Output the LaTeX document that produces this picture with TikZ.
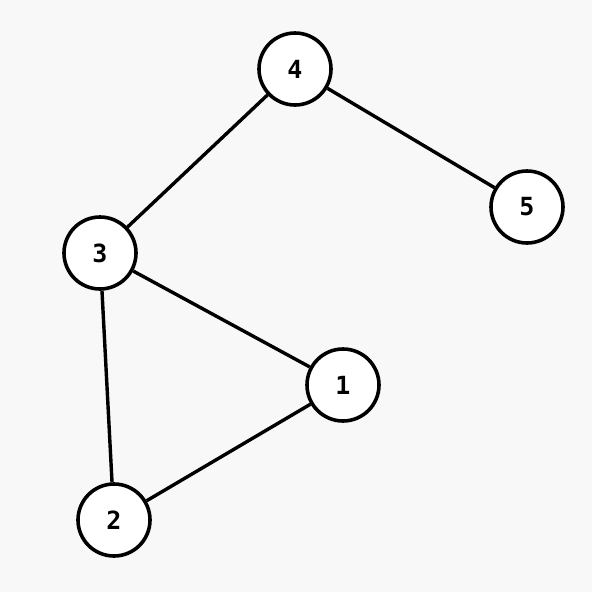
\documentclass[tikz,border=0pt]{standalone}
\usepackage{fontspec}
\newfontfamily\labelfont{DejaVu Sans Mono Bold}
\definecolor{bgcol}{HTML}{F8F8F8}
\tikzset{
  vertex/.style={circle, draw=black, fill=white, line width=3.6pt,
    minimum size=72pt, inner sep=0pt, font=\fontsize{25}{30}\labelfont},
  edge/.style={line width=3.4pt}
}
\begin{document}
\begin{tikzpicture}[x=1pt,y=-1pt]
% Background and bounding box
\fill[bgcol] (0,0) rectangle (592,592);
\useasboundingbox (0,0) rectangle (592,592);
% Draw the vertices
\node[vertex] (v4) at (295,69) {4};
\node[vertex] (v5) at (527,207) {5};
\node[vertex] (v3) at (100,253) {3};
\node[vertex] (v1) at (343,385) {1};
\node[vertex] (v2) at (114,520) {2};
% Draw the edges
\foreach \a/\b in {v4/v3,v4/v5,v3/v1,v3/v2,v2/v1}
  \draw[edge] (\a) -- (\b);
\end{tikzpicture}
\end{document}
